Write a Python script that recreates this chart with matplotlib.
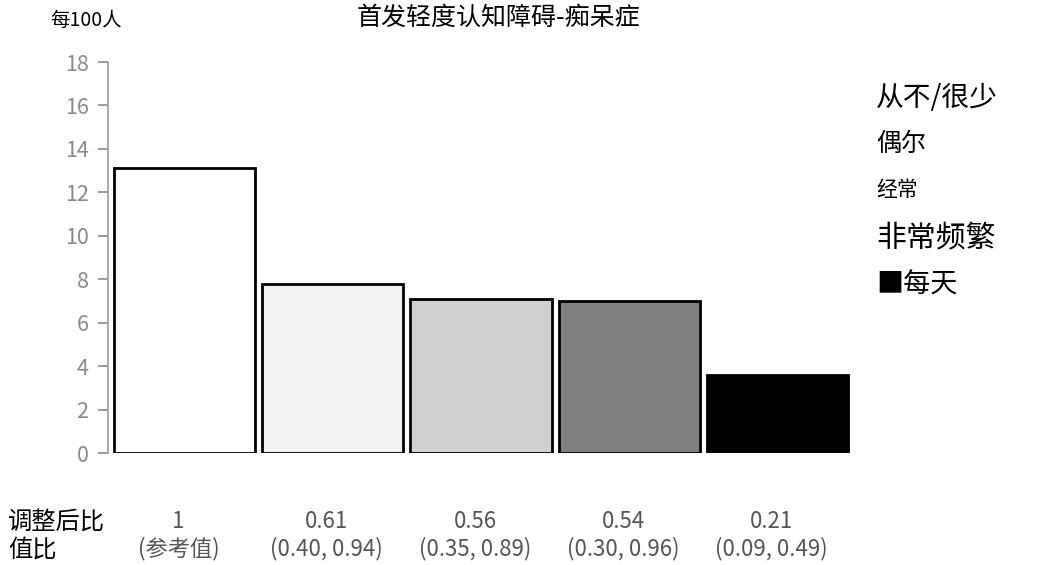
import matplotlib
matplotlib.use('Agg')
import matplotlib.pyplot as plt
import matplotlib.transforms as mtransforms

plt.rcParams['font.family'] = ['Noto Sans CJK SC', 'DejaVu Sans']

groups = ['从不/很少', '偶尔', '经常', '非常频繁', '每天']
rates = [13.1, 7.8, 7.1, 7.0, 3.6]
ratios = ['1', '0.61', '0.56', '0.54', '0.21']
cis = ['(参考值)', '(0.40, 0.94)', '(0.35, 0.89)', '(0.30, 0.96)', '(0.09, 0.49)']
colors = ['#ffffff', '#f2f2f2', '#d0d0d0', '#808080', '#000000']
legend_sizes = [20, 18, 15, 21.5, 19.5]

fig = plt.figure(figsize=(10.41, 5.65), dpi=100)
ax = fig.add_axes([0.1037, 0.1982, 0.7128, 0.692])

x = list(range(len(rates)))
ax.bar(x, rates, width=0.953, color=colors, edgecolor='black', linewidth=2)
ax.set_xlim(-0.517, 4.49)
ax.set_ylim(0, 18)
ax.set_yticks(range(0, 19, 2))
ax.tick_params(axis='y', colors='#8a8a8a', labelsize=15.5, length=7, width=1.2, pad=7)
ax.set_xticks([])
for s in ['top', 'right', 'bottom']:
    ax.spines[s].set_visible(False)
ax.spines['left'].set_color('#9a9a9a')
ax.spines['left'].set_linewidth(1.2)

fig.text(0.479, 0.968, '首发轻度认知障碍-痴呆症', ha='center', va='center', fontsize=18)
fig.text(0.048, 0.963, '每100人', ha='left', va='center', fontsize=14)

# legend-like labels at right
ys = [98, 144, 190, 238, 285]
for g, y, fs in zip(groups, ys, legend_sizes):
    label = '■' + g if g == '每天' else g
    fig.text(876 / 1041, 1 - y / 565, label, ha='left', va='center', fontsize=fs,
             family=['Noto Sans CJK SC', 'DejaVu Sans'])

# bottom ratio rows
fig.text(8 / 1041, 1 - 522 / 565, '调整后比', ha='left', va='center', fontsize=17.5)
fig.text(8 / 1041, 1 - 550 / 565, '值比', ha='left', va='center', fontsize=17.5)
trans = mtransforms.blended_transform_factory(ax.transData, fig.transFigure)
for xi, r, c in zip(x, ratios, cis):
    ax.text(xi - 0.04, 1 - 521 / 565, r, transform=trans, ha='center', va='center',
            fontsize=16, color='#555555', clip_on=False)
    ax.text(xi - 0.04, 1 - 549 / 565, c, transform=trans, ha='center', va='center',
            fontsize=16, color='#555555', clip_on=False)

fig.savefig('out.png', dpi=100)
